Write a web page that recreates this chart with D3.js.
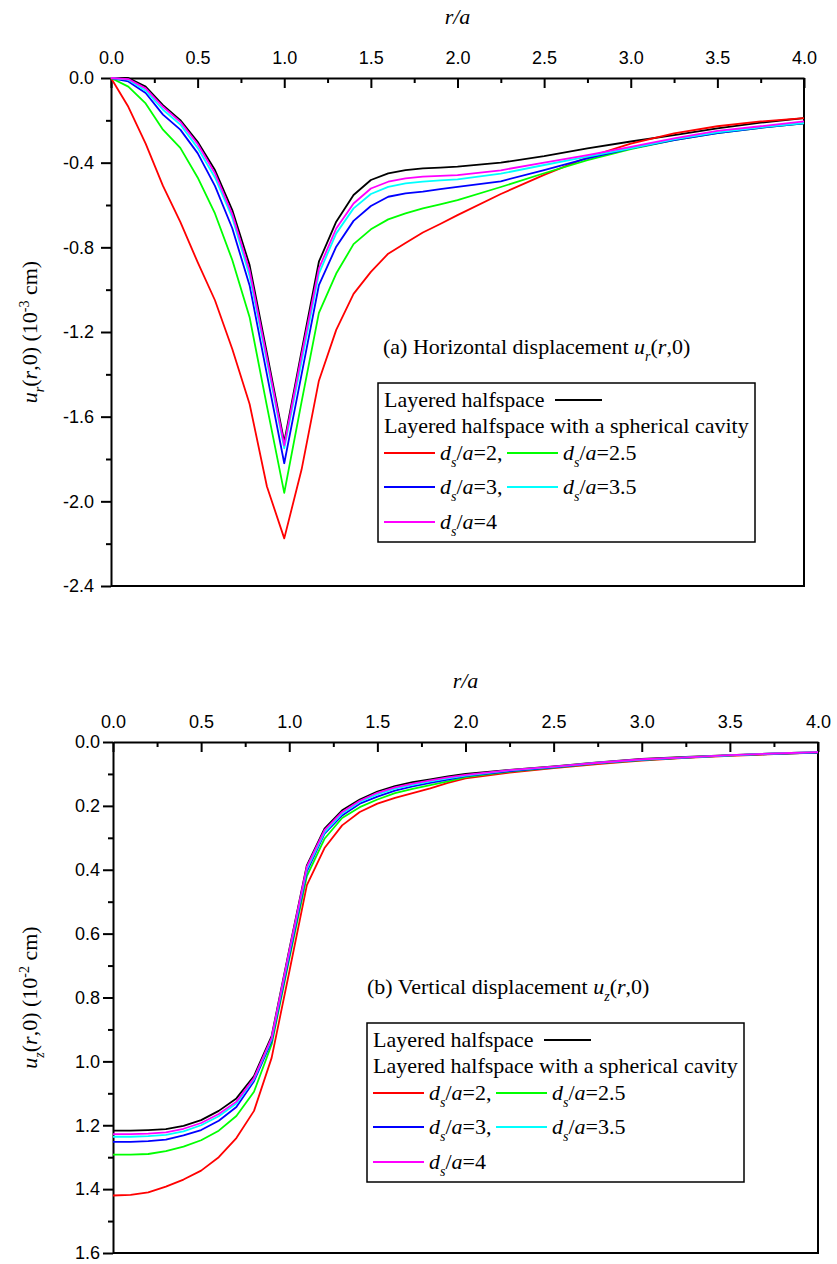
<!DOCTYPE html>
<html>
<head>
<meta charset="utf-8">
<script src="https://cdn.jsdelivr.net/npm/d3@7/dist/d3.min.js"></script>
<style>
  body { margin: 0; background: #fff; }
  svg { display: block; }
  .tick text { font-family: "Liberation Sans", Arial, sans-serif; font-size: 18px; fill: #000; }
  .serif { font-family: "Liberation Serif", "Times New Roman", serif; font-size: 22px; fill: #000; }
</style>
</head>
<body>
<svg width="837" height="1264"></svg>
<script>
// r/a sample points (shared by both panels)
var rVals = [0, 0.1, 0.2, 0.3, 0.4, 0.5, 0.6, 0.7, 0.8, 0.9, 1.0, 1.1, 1.2, 1.3, 1.4, 1.5, 1.6, 1.7, 1.8, 1.9, 2.0,
             2.25, 2.5, 2.75, 3.0, 3.25, 3.5, 3.75, 4.0];

// (a) horizontal displacement u_r(r,0), 10^-3 cm
var urHalf = [0, 0, -0.041, -0.128, -0.199, -0.301, -0.435, -0.624, -0.884, -1.30, -1.72, -1.29, -0.868, -0.679, -0.553, -0.482, -0.451, -0.435, -0.427, -0.423, -0.419,
              -0.40, -0.369, -0.333, -0.30, -0.27, -0.238, -0.211, -0.19];
var urD2   = [0, -0.136, -0.31, -0.51, -0.68, -0.87, -1.05, -1.28, -1.54, -1.93, -2.175, -1.85, -1.43, -1.19, -1.02, -0.916, -0.83, -0.78, -0.73, -0.69, -0.648,
              -0.548, -0.458, -0.375, -0.31, -0.262, -0.228, -0.205, -0.19];
var urD25  = [0, -0.041, -0.12, -0.244, -0.33, -0.47, -0.64, -0.86, -1.13, -1.55, -1.96, -1.53, -1.11, -0.924, -0.785, -0.715, -0.668, -0.64, -0.616, -0.597, -0.577,
              -0.515, -0.45, -0.388, -0.336, -0.293, -0.26, -0.235, -0.214];
var urD3   = [0, -0.016, -0.071, -0.173, -0.244, -0.355, -0.51, -0.71, -0.98, -1.40, -1.82, -1.40, -0.979, -0.797, -0.675, -0.605, -0.561, -0.545, -0.537, -0.525, -0.514,
              -0.488, -0.435, -0.38, -0.333, -0.293, -0.26, -0.235, -0.214];
var urD35  = [0, -0.008, -0.06, -0.15, -0.22, -0.33, -0.47, -0.66, -0.935, -1.34, -1.75, -1.34, -0.924, -0.734, -0.616, -0.548, -0.514, -0.498, -0.49, -0.484, -0.479,
              -0.452, -0.411, -0.372, -0.333, -0.29, -0.257, -0.233, -0.213];
var urD4   = [0, -0.005, -0.049, -0.136, -0.207, -0.312, -0.45, -0.643, -0.91, -1.32, -1.735, -1.31, -0.90, -0.711, -0.593, -0.522, -0.49, -0.474, -0.466, -0.462, -0.459,
              -0.436, -0.40, -0.364, -0.325, -0.285, -0.25, -0.228, -0.205];

// (b) vertical displacement u_z(r,0), 10^-2 cm
var uzHalf = [1.217, 1.217, 1.215, 1.212, 1.202, 1.184, 1.155, 1.116, 1.046, 0.921, 0.65, 0.386, 0.271, 0.214, 0.18, 0.155, 0.138, 0.126, 0.117, 0.108, 0.10,
              0.087, 0.076, 0.064, 0.053, 0.047, 0.041, 0.036, 0.032];
var uzD2   = [1.42, 1.418, 1.41, 1.392, 1.37, 1.342, 1.30, 1.24, 1.155, 0.989, 0.72, 0.448, 0.332, 0.261, 0.219, 0.193, 0.175, 0.16, 0.145, 0.128, 0.114,
              0.096, 0.082, 0.069, 0.058, 0.05, 0.043, 0.038, 0.033];
var uzD25  = [1.292, 1.292, 1.29, 1.281, 1.267, 1.247, 1.217, 1.171, 1.095, 0.947, 0.68, 0.42, 0.303, 0.238, 0.204, 0.18, 0.16, 0.147, 0.135, 0.123, 0.11,
              0.093, 0.08, 0.067, 0.057, 0.049, 0.042, 0.037, 0.033];
var uzD3   = [1.252, 1.252, 1.25, 1.245, 1.232, 1.215, 1.186, 1.143, 1.062, 0.937, 0.67, 0.405, 0.287, 0.23, 0.193, 0.171, 0.152, 0.139, 0.128, 0.118, 0.107,
              0.091, 0.079, 0.066, 0.056, 0.049, 0.042, 0.037, 0.033];
var uzD35  = [1.236, 1.236, 1.234, 1.23, 1.219, 1.2, 1.172, 1.132, 1.056, 0.93, 0.66, 0.398, 0.283, 0.224, 0.188, 0.164, 0.146, 0.134, 0.123, 0.114, 0.105,
              0.089, 0.078, 0.065, 0.055, 0.048, 0.042, 0.036, 0.032];
var uzD4   = [1.228, 1.228, 1.226, 1.222, 1.211, 1.193, 1.165, 1.126, 1.052, 0.926, 0.655, 0.39, 0.276, 0.219, 0.184, 0.159, 0.142, 0.13, 0.12, 0.111, 0.103,
              0.088, 0.077, 0.065, 0.054, 0.048, 0.041, 0.036, 0.032];

var xMajor = [0, 0.5, 1.0, 1.5, 2.0, 2.5, 3.0, 3.5, 4.0];
var xMinor = [0.25, 0.75, 1.25, 1.75, 2.25, 2.75, 3.25, 3.75];
var yMajorA = [0, -0.4, -0.8, -1.2, -1.6, -2.0, -2.4];
var yMinorA = [-0.2, -0.6, -1.0, -1.4, -1.8, -2.2];
var yMajorB = [0, 0.2, 0.4, 0.6, 0.8, 1.0, 1.2, 1.4, 1.6];
var yMinorB = [0.1, 0.3, 0.5, 0.7, 0.9, 1.1, 1.3, 1.5];

var seriesNames = ["half", "d2", "d25", "d3", "d35", "d4"];
var colours = {half: "#000000", d2: "#ff0000", d25: "#00ff00", d3: "#0000ff", d35: "#00ffff", d4: "#ff00ff"};

var svg = d3.select("svg");

// writes runs of text, with italic / subscript / superscript parts
function rich(text, parts) {
    var shift = 0;
    parts.forEach(function(p) {
        var t = text.append("tspan").text(p.t);
        var want = p.sub ? 7 : (p.sup ? -8 : 0);
        if (want !== shift) { t.attr("dy", want - shift); shift = want; }
        if (p.i) t.style("font-style", "italic");
        if (p.sub || p.sup) t.style("font-size", "14px");
    });
    return text;
}

function drawPanel(cfg) {
    var x = d3.scaleLinear().domain([0, 4]).range([cfg.left, cfg.right]);
    var y = d3.scaleLinear().domain(cfg.yDomain).range([cfg.top, cfg.bottom]);
    var g = svg.append("g");

    // frame: right and bottom
    g.append("path")
        .attr("d", "M" + cfg.right + "," + cfg.top + "V" + cfg.bottom + "H" + cfg.left)
        .attr("fill", "none").attr("stroke", "#000").attr("stroke-width", 2);

    g.append("g").attr("transform", "translate(0," + cfg.top + ")")
        .call(d3.axisTop(x).tickValues(xMajor).tickFormat(d3.format(".1f"))
            .tickSizeInner(-10).tickSizeOuter(0).tickPadding(14));
    g.append("g").attr("transform", "translate(0," + cfg.top + ")")
        .call(d3.axisTop(x).tickValues(xMinor).tickFormat("").tickSizeInner(-5).tickSizeOuter(0))
        .select(".domain").remove();

    var ya = g.append("g").attr("transform", "translate(" + cfg.left + ",0)")
        .call(d3.axisLeft(y).tickValues(cfg.yMajor).tickFormat(d3.format(".1f"))
            .tickSizeInner(10).tickSizeOuter(0).tickPadding(cfg.yPad));
    g.append("g").attr("transform", "translate(" + cfg.left + ",0)")
        .call(d3.axisLeft(y).tickValues(cfg.yMinor).tickFormat("").tickSizeInner(5).tickSizeOuter(0))
        .select(".domain").remove();

    g.selectAll(".domain, .tick line").attr("stroke", "#000").attr("stroke-width", 2);
    ya.selectAll(".tick text").text(function(d) { return d3.format(".1f")(d).replace("\u2212", "-"); });

    // r/a title above the top axis
    rich(g.append("text").attr("class", "serif")
        .attr("x", (cfg.left + cfg.right) / 2).attr("y", cfg.top - 54)
        .attr("text-anchor", "middle"), [{t: "r/a", i: true}]);

    // y axis title
    rich(g.append("text").attr("class", "serif")
        .attr("transform", "translate(37," + ((cfg.top + cfg.bottom) / 2) + ") rotate(-90)")
        .attr("text-anchor", "middle"), cfg.yLabel);

    // curves
    var line = d3.line()
        .x(function(d) { return x(d[0]); })
        .y(function(d) { return y(d[1]); });
    seriesNames.forEach(function(name) {
        var vals = cfg.series[name];
        g.append("path")
            .datum(rVals.map(function(r, i) { return [r, vals[i]]; }))
            .attr("fill", "none")
            .attr("stroke", colours[name])
            .attr("stroke-width", 1.8)
            .attr("stroke-linejoin", "round")
            .attr("d", line);
    });

    // note
    rich(g.append("text").attr("class", "serif")
        .attr("x", cfg.noteX).attr("y", cfg.noteY), cfg.note);

    // legend
    var bx = cfg.legX, by = cfg.legY;
    g.append("rect").attr("x", bx).attr("y", by).attr("width", 377).attr("height", 159)
        .attr("fill", "#fff").attr("stroke", "#000").attr("stroke-width", 1.5);
    rich(g.append("text").attr("class", "serif").attr("x", bx + 6).attr("y", by + 24),
        [{t: "Layered halfspace"}]);
    g.append("line").attr("x1", bx + 177).attr("x2", bx + 224).attr("y1", by + 17).attr("y2", by + 17)
        .attr("stroke", colours.half).attr("stroke-width", 2);
    rich(g.append("text").attr("class", "serif").attr("x", bx + 6).attr("y", by + 50),
        [{t: "Layered halfspace with a spherical cavity"}]);

    var items = [
        {name: "d2", v: "2,", col: 0, row: 0},
        {name: "d25", v: "2.5", col: 1, row: 0},
        {name: "d3", v: "3,", col: 0, row: 1},
        {name: "d35", v: "3.5", col: 1, row: 1},
        {name: "d4", v: "4", col: 0, row: 2}
    ];
    var rowY = [70, 104, 139];
    items.forEach(function(it) {
        var lx = bx + 6 + it.col * 123, ly = by + rowY[it.row];
        g.append("line").attr("x1", lx).attr("x2", lx + 51).attr("y1", ly).attr("y2", ly)
            .attr("stroke", colours[it.name]).attr("stroke-width", 2);
        rich(g.append("text").attr("class", "serif").attr("x", lx + 56).attr("y", ly + 7),
            [{t: "d", i: true}, {t: "s", i: true, sub: true}, {t: "/"}, {t: "a", i: true}, {t: "=" + it.v}]);
    });
}

drawPanel({
    left: 111, right: 804, top: 78, bottom: 586,
    yDomain: [0, -2.4], yMajor: yMajorA, yMinor: yMinorA, yPad: 7,
    series: {half: urHalf, d2: urD2, d25: urD25, d3: urD3, d35: urD35, d4: urD4},
    yLabel: [{t: "u", i: true}, {t: "r", i: true, sub: true}, {t: "("}, {t: "r", i: true},
             {t: ",0) (10"}, {t: "-3", sup: true}, {t: " cm)"}],
    note: [{t: "(a) Horizontal displacement "}, {t: "u", i: true}, {t: "r", i: true, sub: true},
           {t: "("}, {t: "r", i: true}, {t: ",0)"}],
    noteX: 383, noteY: 354,
    legX: 378, legY: 383
});

drawPanel({
    left: 113, right: 818, top: 742, bottom: 1253,
    yDomain: [0, 1.6], yMajor: yMajorB, yMinor: yMinorB, yPad: 3,
    series: {half: uzHalf, d2: uzD2, d25: uzD25, d3: uzD3, d35: uzD35, d4: uzD4},
    yLabel: [{t: "u", i: true}, {t: "z", i: true, sub: true}, {t: "("}, {t: "r", i: true},
             {t: ",0) (10"}, {t: "-2", sup: true}, {t: " cm)"}],
    note: [{t: "(b) Vertical displacement "}, {t: "u", i: true}, {t: "z", i: true, sub: true},
           {t: "("}, {t: "r", i: true}, {t: ",0)"}],
    noteX: 367, noteY: 994,
    legX: 367, legY: 1023
});
</script>
</body>
</html>
